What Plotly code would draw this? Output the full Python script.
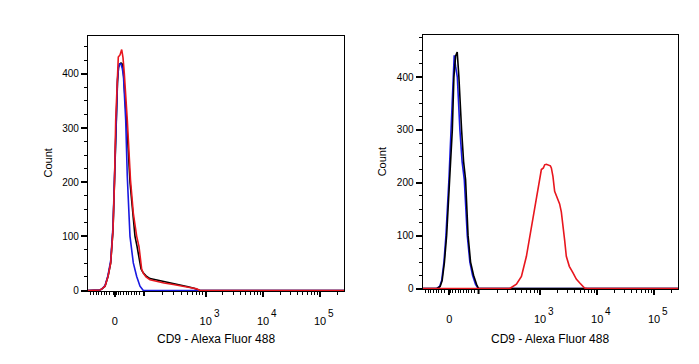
import math
import plotly.graph_objects as go

# ---------------- data (x in display channels 0..256 of the biexponential axis) -------------
left_black_x = [0, 10, 12, 14, 17, 20, 22.7, 25, 26.5, 27.7, 29.5, 30.5, 31.5, 33, 34.5, 35.5, 37, 39, 42,
                44.5, 47, 49, 51, 53, 55, 58, 62, 70, 80, 90, 100, 106, 112, 256]
left_black_y = [0, 0, 1, 3, 8, 26, 51, 112, 195, 300, 385, 412, 418, 420, 418, 400, 360, 300, 200,
                143, 100, 82, 62, 40, 33, 27, 22, 19, 15, 11, 7, 4, 0, 0]

left_blue_x = [0, 10, 12, 14, 17, 20, 22.7, 25, 26.5, 27.7, 29.5, 30.5, 31.5, 33, 34.3, 35.5, 37.7, 39.3,
               42, 45.3, 48.7, 52, 55.3, 256]
left_blue_y = [0, 0, 1, 3, 9, 28, 55, 118, 200, 305, 390, 412, 418, 418, 410, 395, 315, 210,
               100, 51, 26, 8, 0, 0]

left_red_x = [0, 10, 12, 14, 17, 20, 22.7, 25, 26.5, 27.7, 29.7, 30.3, 32, 33.7, 35, 36.3, 39.3, 42.5,
              45.3, 48.7, 51, 53.7, 55.3, 58, 62, 68.7, 76, 85.3, 95, 103, 108.7, 112, 256]
left_red_y = [0, 0, 1, 3, 8, 26, 51, 112, 200, 315, 401, 431, 435, 445, 430, 401, 315, 204,
              143, 100, 81, 39, 32, 25, 20, 17, 14, 11, 7, 5, 3, 0, 0]

right_blue_x = [0, 14, 17, 19, 21.3, 23.3, 26.3, 28.3, 30, 31.6, 33, 34.7, 37.3, 39.5, 41.7, 44.7, 47.3,
                50, 53, 55.6, 256]
right_blue_y = [0, 0, 4, 15, 50, 100, 206, 300, 400, 441, 420, 400, 300, 240, 206, 100, 50,
                25, 8, 0, 0]

right_black_x = [0, 14.5, 17.5, 19.5, 21.8, 24, 27, 29.7, 31.3, 33, 34.6, 35.3, 36.3, 39, 41, 43, 45.5,
                 48, 51, 54, 56, 256]
right_black_y = [0, 0, 4, 15, 50, 100, 206, 300, 400, 440, 447, 430, 400, 300, 240, 206, 100,
                 50, 25, 8, 0, 0]

right_red_x = [0, 87.3, 94, 99, 104, 107.3, 110.6, 114, 117.3, 119, 121, 122.3, 124, 126.3, 128, 129,
               130.6, 132.3, 135, 137.3, 139, 140.6, 142.3, 144, 147, 150.6, 154, 157.3, 160, 162.3, 165, 256]
right_red_y = [0, 0, 8, 23, 61, 99, 130, 168, 212, 225, 228, 234, 235, 234, 232, 228,
               212, 184, 170, 160, 145, 124, 92, 61, 42, 30, 18, 11, 5, 1, 0, 0]

# axis ticks (display channel of each labelled value)
x_tick_vals = [26.8, 117.7, 175, 232]
x_tick_base = ["0", "10", "10", "10"]
x_tick_exp = ["", "3", "4", "5"]
x_unlabelled_major = [56]
y_tick_vals = [0, 100, 200, 300, 400]
y_tick_text = ["0", "100", "200", "300", "400"]

x_title = "CD9 - Alexa Fluor 488"
y_title = "Count"

# ---------------- minor ticks for the biexponential axis ----------------
zero = x_tick_vals[0]
minor_x = [zero - 1.3, zero + 1.3]
minor_x += [zero - 2.65 * k for k in range(2, 10)]
minor_x += [zero + 3.4 + 2.66 * k for k in range(0, 9)]
decades = {2: x_unlabelled_major[0], 3: 117.7, 4: 175, 5: 232}
for d in (2, 3, 4, 5):
    span = decades[d + 1] - decades[d] if d + 1 in decades else 57
    for m in range(2, 10):
        p = decades[d] + math.log10(m) * span
        if p < 256:
            minor_x.append(p)

RED = "rgb(232,22,30)"
BLUE = "rgb(25,25,225)"
BLACK = "rgb(0,0,0)"
FONT = "Liberation Sans, Arial, sans-serif"

fig = go.Figure()
lw = 1.6
for xs, ys, c in [(left_black_x, left_black_y, BLACK), (left_blue_x, left_blue_y, BLUE),
                  (left_red_x, left_red_y, RED)]:
    fig.add_trace(go.Scatter(x=xs, y=ys, mode="lines", line=dict(color=c, width=lw),
                             xaxis="x", yaxis="y", showlegend=False, hoverinfo="skip"))
for xs, ys, c in [(right_blue_x, right_blue_y, BLUE), (right_black_x, right_black_y, BLACK),
                  (right_red_x, right_red_y, RED)]:
    fig.add_trace(go.Scatter(x=xs, y=ys, mode="lines", line=dict(color=c, width=lw),
                             xaxis="x2", yaxis="y2", showlegend=False, hoverinfo="skip"))

W, H = 699, 364


def xaxis(dom, anchor):
    return dict(domain=dom, anchor=anchor, range=[0, 256], showgrid=False, zeroline=False,
                automargin=False,
                showline=True, linecolor="black", linewidth=1.3, mirror=True,
                tickmode="array", tickvals=x_tick_vals, ticktext=x_tick_base,
                ticks="outside", ticklen=5, tickwidth=2, tickcolor="black",
                ticklabelstandoff=15,
                tickfont=dict(family=FONT, size=11, color="black"),
                minor=dict(tickmode="array", tickvals=minor_x, ticks="outside", ticklen=3,
                           tickwidth=1, tickcolor="black", showgrid=False),
                layer="below traces", fixedrange=True)


def yaxis(dom, anchor, top):
    return dict(domain=dom, anchor=anchor, range=[-0.9, top], showgrid=False, zeroline=False,
                automargin=False,
                showline=True, linecolor="black", linewidth=1.3, mirror=True,
                tickmode="array", tickvals=y_tick_vals, ticktext=y_tick_text,
                ticks="outside", ticklen=6, tickwidth=2, tickcolor="black",
                tickfont=dict(family=FONT, size=10, color="black"),
                minor=dict(dtick=25, tick0=0, ticks="outside", ticklen=3, tickwidth=1,
                           tickcolor="black", showgrid=False),
                layer="below traces", fixedrange=True)


xl = [88 / W, 344 / W]
xr = [422.7 / W, 678 / W]
yl = [(H - 291) / H, (H - 36) / H]
yr = [(H - 289) / H, (H - 34.7) / H]

fig.update_layout(
    width=W, height=H, margin=dict(l=0, r=0, t=0, b=0, autoexpand=False),
    paper_bgcolor="white", plot_bgcolor="white",
    font=dict(family=FONT, color="black"),
    xaxis=xaxis(xl, "y"), yaxis=yaxis(yl, "x", 470),
    xaxis2=xaxis(xr, "y2"), yaxis2=yaxis(yr, "x2", 480),
)

# unlabelled major tick (10^2) drawn as a short thick tick below each x axis
shapes = []
for xa, ya in [("x", "y"), ("x2", "y2")]:
    for v in x_unlabelled_major:
        shapes.append(dict(type="line", xref=xa, yref=f"{ya} domain", x0=v, x1=v, y0=0, y1=-0.02,
                           line=dict(color="black", width=2)))

ann = []
for (xa, ya), dom, ydom, xt in [(("x", "y"), xl, yl, 48), (("x2", "y2"), xr, yr, 381.5)]:
    ann.append(dict(text=x_title, x=(dom[0] + dom[1]) / 2, y=(H - 339) / H, xref="paper", yref="paper",
                    showarrow=False, xanchor="center", yanchor="middle",
                    font=dict(family=FONT, size=12, color="black")))
    ann.append(dict(text=y_title, x=xt / W, y=(ydom[0] + ydom[1]) / 2, xref="paper", yref="paper",
                    showarrow=False, xanchor="center", yanchor="middle", textangle=-90,
                    font=dict(family=FONT, size=11, color="black")))
    # exponents of the decade labels
    for v, e in zip(x_tick_vals, x_tick_exp):
        if e:
            ann.append(dict(text=e, x=v, y=ydom[0], xref=xa, yref="paper", showarrow=False,
                            xanchor="left", yanchor="middle", xshift=6, yshift=-22,
                            font=dict(family=FONT, size=10, color="black")))
fig.update_layout(annotations=ann, shapes=shapes)

fig.write_html("out.html", config={"displayModeBar": False},
               post_script="document.body.style.margin='0px';")
